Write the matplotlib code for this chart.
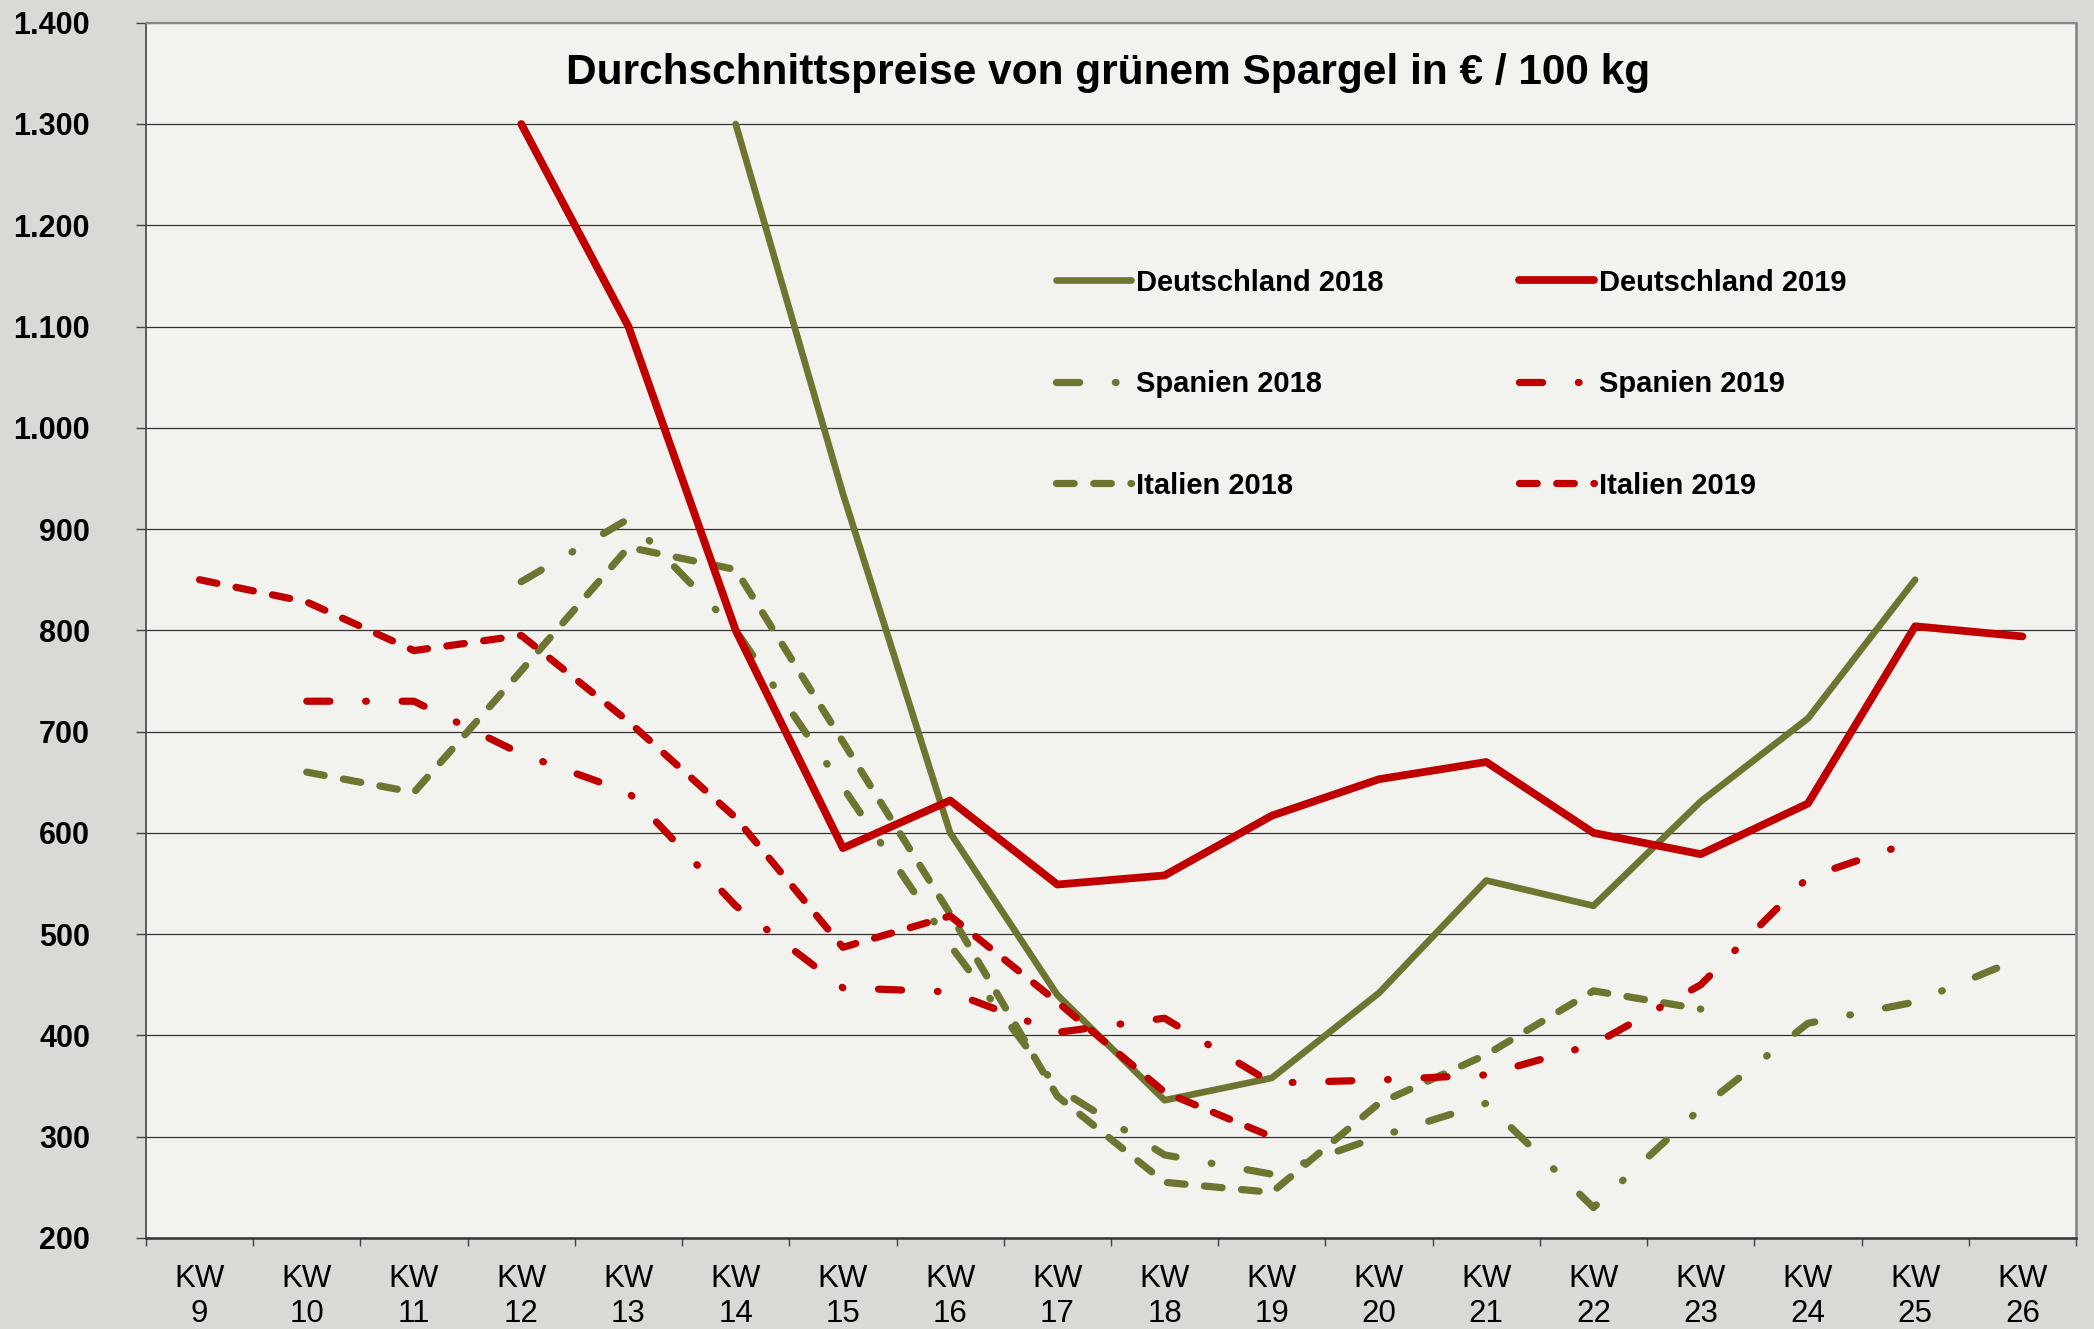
import numpy as np
import matplotlib.pyplot as plt
from matplotlib.ticker import FixedLocator, FuncFormatter

plt.rcParams['font.family'] = ['Liberation Sans', 'DejaVu Sans']

nan = np.nan
weeks = list(range(9, 27))
week_labels = [f'KW\n{w}' for w in weeks]

# prices in EUR / 100 kg, KW 9 .. KW 26
de_2018 = [nan, nan, nan, nan, nan, 1300, 935, 600, 440, 336, 358, 442, 553, 528, 631, 713, 850, nan]
de_2019 = [nan, nan, nan, 1300, 1100, 800, 585, 632, 549, 558, 617, 653, 670, 600, 579, 629, 804, 794]
es_2018 = [nan, nan, nan, 848, 910, 800, 645, 489, 348, 282, 263, 300, 333, 230, 328, 412, 433, 477]
es_2019 = [nan, 730, 730, 678, 640, 528, 447, 443, 403, 417, 353, 356, 361, 391, 450, 556, 592, nan]
it_2018 = [nan, 660, 640, 760, 882, 860, 690, 520, 340, 255, 245, 333, 381, 444, 426, nan, nan, nan]
it_2019 = [850, 828, 780, 795, 710, 615, 487, 518, 433, 344, 300, nan, nan, nan, nan, nan, nan, nan]

green = '#6e7531'
red = '#c00000'
dashed = (0, (2.45, 2.7))
dashdot = (0, (3.2, 4.95, 0.1, 4.95))

fig = plt.figure(figsize=(20.94, 13.29), dpi=100, facecolor='#d9d9d5')
ax = fig.add_axes([0.0697, 0.0685, 0.9217, 0.9144])
ax.set_facecolor('#f2f2ef')

x = np.arange(len(weeks))
series = [
    (de_2018, 'Deutschland 2018', green, '-', 4.8),
    (es_2018, 'Spanien 2018', green, dashdot, 5.2),
    (it_2018, 'Italien 2018', green, dashed, 5.2),
    (de_2019, 'Deutschland 2019', red, '-', 5.6),
    (es_2019, 'Spanien 2019', red, dashdot, 5.2),
    (it_2019, 'Italien 2019', red, dashed, 5.2),
]
for vals, name, col, ls, lw in series:
    ax.plot(x, vals, color=col, linestyle=ls, lw=lw, label=name,
            dash_capstyle='round', solid_capstyle='round', solid_joinstyle='round')

ax.set_xlim(-0.5, len(weeks) - 0.5)
ax.set_ylim(200, 1400)

ax.yaxis.set_major_locator(FixedLocator(np.arange(200, 1401, 100)))
ax.yaxis.set_major_formatter(FuncFormatter(lambda v, _: f'{int(v):,}'.replace(',', '.')))
ax.tick_params(axis='y', direction='out', length=7.2, width=1, color='#444444', pad=33,
               labelsize=22)
for t in ax.get_yticklabels():
    t.set_fontweight('bold')

ax.xaxis.set_major_locator(FixedLocator(np.arange(-0.5, len(weeks), 1)))
ax.xaxis.set_major_formatter(FuncFormatter(lambda v, _: ''))
ax.xaxis.set_minor_locator(FixedLocator(x))
ax.set_xticklabels(week_labels, minor=True)
ax.tick_params(axis='x', which='major', direction='out', length=6, width=1, color='#444444')
ax.tick_params(axis='x', which='minor', length=0, pad=19, labelsize=22.5)
for t in ax.get_xticklabels(minor=True):
    t.set_linespacing(1.2)

ax.yaxis.grid(True, color='#333333', lw=0.9)
ax.set_axisbelow(True)

ax.spines['left'].set_color('#444444')
ax.spines['left'].set_linewidth(1.2)
ax.spines['bottom'].set_color('#333333')
ax.spines['bottom'].set_linewidth(1.8)
ax.spines['top'].set_color('#888888')
ax.spines['top'].set_linewidth(1.5)
ax.spines['right'].set_color('#8a8a8a')
ax.spines['right'].set_linewidth(2)

fig.text(1108 / 2094, 1 - 84 / 1329, 'Durchschnittspreise von grünem Spargel in € / 100 kg',
         ha='center', va='baseline', fontsize=30.5, fontweight='bold')

leg = ax.legend(ncol=2, loc='upper left', bbox_to_anchor=(1041 / 2094, 1 - 254 / 1329),
                bbox_transform=fig.transFigure, frameon=False, borderpad=0,
                handlelength=2.6, handletextpad=0.14, columnspacing=4.65, labelspacing=2.52,
                prop={'weight': 'bold', 'size': 21})

fig.savefig('out.png', dpi=100, facecolor=fig.get_facecolor())
